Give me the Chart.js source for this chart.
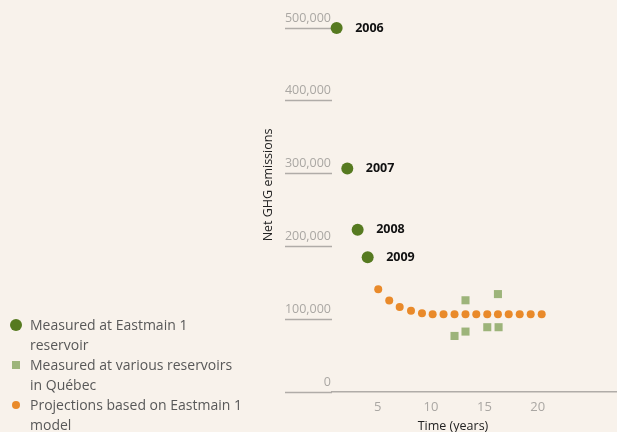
<!DOCTYPE html>
<html><head><meta charset="utf-8">
<script src="https://cdn.jsdelivr.net/npm/chart.js@4.4.1/dist/chart.umd.min.js"></script>
<style>
html,body{margin:0;padding:0;background:#f8f2eb;}
#wrap{position:relative;width:617px;height:432px;overflow:hidden;background:#f8f2eb;}
canvas{position:absolute;left:0;top:0;}
#legend{position:absolute;left:0;top:315px;font-family:'Open Sans',sans-serif;font-size:14px;line-height:20px;color:#585858;}
.item{position:relative;padding-left:30px;white-space:pre;}
.mk{position:absolute;}
</style></head>
<body><div id="wrap"><canvas id="c" width="617" height="432"></canvas><div id="legend"></div></div>
<script>
// ---- data ----
const seriesNames = ["Measured at Eastmain 1\nreservoir", "Measured at various reservoirs\nin Québec", "Projections based on Eastmain 1\nmodel"];
const eastmainYears  = [1.15, 2.15, 3.12, 4.06];
const eastmainValues = [500000, 307000, 223000, 185000];
const eastmainLabels = ["2006", "2007", "2008", "2009"];
const quebecYears  = [12.2, 13.23, 13.23, 15.27, 16.27, 16.33];
const quebecValues = [77000, 126000, 83000, 89000, 134500, 89000];
const projectionYears  = [5.05, 6.08, 7.06, 8.12, 9.15, 10.15, 11.17, 12.2, 13.23, 14.24, 15.27, 16.27, 17.28, 18.31, 19.34, 20.37];
const projectionValues = [141000, 125700, 116800, 111500, 108200, 106700, 106700, 106700, 106700, 106700, 106700, 106700, 106700, 106700, 106700, 106700];
const xTickValues = [5, 10, 15, 20];
const yTickValues = [0, 100000, 200000, 300000, 400000, 500000];
const xTitle = "Time (years)";
const yTitle = "Net GHG emissions";

// ---- styles ----
const colors = ["#567a20", "#9db47a", "#e98a2a"];
const axisGrey = "#b0aca8";
const tickGrey = "#aaa7a3";
const FONT = "'Open Sans', sans-serif";
Chart.defaults.font.family = FONT;

const toPts = (xs, ys) => xs.map((x, i) => ({x: x, y: ys[i]}));

const textPlugin = {
  id: 'txt',
  afterDatasetsDraw(chart) {
    const ctx = chart.ctx;
    ctx.save();
    ctx.font = "bold 12.5px " + FONT;
    ctx.fillStyle = "#111";
    ctx.textBaseline = "middle";
    ctx.textAlign = "left";
    chart.getDatasetMeta(0).data.forEach((el, i) => ctx.fillText(eastmainLabels[i], el.x + 18.5, el.y));
    const xs = chart.scales.x, ys = chart.scales.y;
    ctx.font = "12.5px " + FONT;
    ctx.fillStyle = "#222";
    ctx.textAlign = "center";
    ctx.fillText(xTitle, (ys.left + xs.right) / 2 + 2, xs.bottom - 5.5);
    ctx.translate(ys.left - 17, ys.top + 157);
    ctx.rotate(-Math.PI / 2);
    ctx.fillText(yTitle, 0, 0);
    ctx.restore();
  }
};

new Chart(document.getElementById('c'), {
  type: 'scatter',
  data: {
    datasets: [
      {label: seriesNames[0], data: toPts(eastmainYears, eastmainValues), pointStyle: 'circle', pointRadius: 6, backgroundColor: colors[0], borderWidth: 0, clip: false},
      {label: seriesNames[1], data: toPts(quebecYears, quebecValues), pointStyle: 'rect', pointRadius: 5.7, backgroundColor: colors[1], borderWidth: 0, clip: false},
      {label: seriesNames[2], data: toPts(projectionYears, projectionValues), pointStyle: 'circle', pointRadius: 4, backgroundColor: colors[2], borderWidth: 0, clip: false}
    ]
  },
  options: {
    responsive: false,
    animation: false,
    events: [],
    layout: {autoPadding: false, padding: {left: 285, top: 28, right: 0, bottom: 0}},
    plugins: {legend: {display: false}, tooltip: {enabled: false}},
    scales: {
      x: {
        type: 'linear', min: 0.716, max: 27.43,
        afterBuildTicks: s => { s.ticks = xTickValues.map(v => ({value: v})); },
        afterFit: s => { s.height = 40; s.paddingLeft = 0; s.paddingRight = 0; },
        grid: {display: true, drawOnChartArea: false, drawTicks: false},
        border: {display: true, color: axisGrey, width: 1.5},
        ticks: {color: tickGrey, font: {size: 13}, padding: 7, maxRotation: 0, callback: v => String(v)}
      },
      y: {
        type: 'linear', min: 0, max: 500000,
        afterBuildTicks: s => { s.ticks = yTickValues.map(v => ({value: v})); },
        afterFit: s => { s.width = 47; },
        grid: {display: true, drawOnChartArea: false, drawTicks: true, tickLength: 47, tickColor: axisGrey, tickWidth: 1.5},
        border: {display: false},
        ticks: {color: tickGrey, font: {size: 12.5}, padding: -46, labelOffset: -10,
                callback: v => v.toLocaleString('en-US')}
      }
    }
  },
  plugins: [textPlugin]
});

// ---- HTML legend ----
const legend = document.getElementById('legend');
const markerCss = [
  "left:9.7px;top:4px;width:12px;height:12px;border-radius:50%;",
  "left:12px;top:6px;width:8px;height:8px;",
  "left:11.7px;top:6px;width:8px;height:8px;border-radius:50%;"
];
seriesNames.forEach((name, i) => {
  const d = document.createElement('div');
  d.className = 'item';
  d.textContent = name;
  const m = document.createElement('span');
  m.className = 'mk';
  m.style.cssText = markerCss[i] + "background:" + colors[i] + ";";
  d.appendChild(m);
  legend.appendChild(d);
});
</script>
</body></html>
